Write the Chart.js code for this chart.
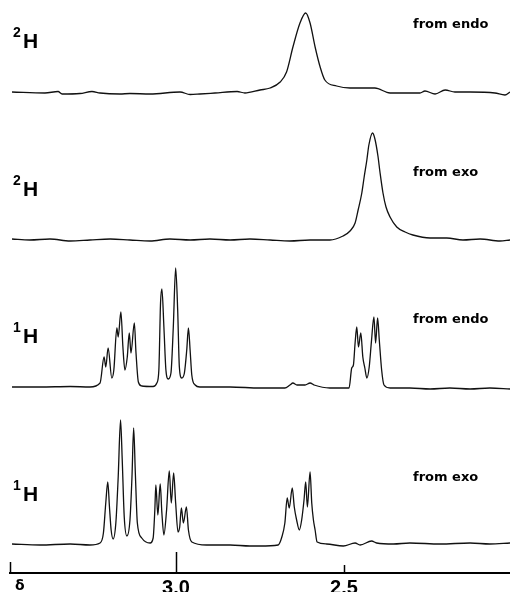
<!DOCTYPE html>
<html>
<head>
<meta charset="utf-8">
<script src="https://cdn.jsdelivr.net/npm/chart.js@4.4.0/dist/chart.umd.min.js"></script>
<style>
  html, body { margin: 0; padding: 0; background: #fff; }
  #wrap { position: relative; width: 510px; height: 592px; }
</style>
</head>
<body>
<div id="wrap"><canvas id="nmr"></canvas></div>
<script>
// chemical shift (ppm) / signal height, one pair of arrays per trace (top to bottom)
const endoDeutPpm = [3.488, 3.390, 3.351, 3.339, 3.286, 3.250, 3.226, 3.167, 3.137, 3.077, 2.988, 2.958, 2.929, 2.884, 2.818, 2.795, 2.750, 2.720, 2.690, 2.671, 2.652, 2.631, 2.614, 2.601, 2.586, 2.571, 2.557, 2.522, 2.482, 2.452, 2.408, 2.363, 2.333, 2.274, 2.259, 2.229, 2.199, 2.170, 2.125, 2.051, 2.021, 2.006];
const endoDeutInt = [0, -1, 0.5, -2, -1.5, 0.5, -1, -2, -1.5, -2, 0, -2.5, -2, -1, 0.5, -1, 2, 4, 10, 20, 45, 69, 79, 69, 45, 25, 12, 6, 4, 4, 4, -1, -1, -1, 1, -2, 2, 0, 0, -1, -3, 0];

const exoDeutPpm = [3.488, 3.435, 3.375, 3.315, 3.256, 3.196, 3.137, 3.077, 3.018, 2.958, 2.899, 2.839, 2.780, 2.720, 2.661, 2.601, 2.542, 2.503, 2.482, 2.467, 2.458, 2.447, 2.440, 2.432, 2.426, 2.415, 2.408, 2.399, 2.393, 2.384, 2.375, 2.363, 2.343, 2.318, 2.295, 2.244, 2.194, 2.146, 2.095, 2.036, 2.006];
const exoDeutInt = [1, 0, 1, -1, 0, 1, 0, -1, 1, 0, 1, 0, 1, 0, -1, 0, 0, 4, 9, 17, 30, 47, 63, 80, 95, 107, 101, 84, 68, 47, 33, 23, 13, 8, 5, 2, 2, 0, 1, -1, 0];

const endoProtPpm = [3.488, 3.405, 3.315, 3.256, 3.226, 3.214, 3.209, 3.202, 3.191, 3.185, 3.176, 3.172, 3.164, 3.158, 3.152, 3.145, 3.139, 3.134, 3.124, 3.119, 3.112, 3.102, 3.068, 3.057, 3.051, 3.046, 3.042, 3.036, 3.030, 3.023, 3.015, 3.008, 3.001, 2.995, 2.990, 2.983, 2.975, 2.968, 2.963, 2.958, 2.953, 2.943, 2.929, 2.839, 2.750, 2.676, 2.661, 2.652, 2.640, 2.616, 2.601, 2.589, 2.542, 2.497, 2.485, 2.477, 2.472, 2.467, 2.462, 2.457, 2.450, 2.444, 2.438, 2.432, 2.425, 2.418, 2.411, 2.406, 2.400, 2.395, 2.388, 2.381, 2.363, 2.304, 2.244, 2.185, 2.125, 2.066, 2.006];
const endoProtInt = [0, 0, 0.5, 0, 4, 30, 20, 39, 9, 17, 59, 50, 75, 40, 17, 30, 54, 34, 64, 34, 5, 1, 0.5, 4, 17, 84, 98, 60, 17, 8, 14, 60, 119, 77, 20, 9, 14, 37, 59, 37, 12, 2, 0, 0, -1, -1, 2, 4, 2, 2, 4, 2, -1, -1, -1, 19, 22, 44, 60, 40, 54, 30, 19, 9, 20, 47, 70, 44, 69, 47, 17, 2, -1, -1, -2, -1, -2, -1, -2];

const exoProtPpm = [3.488, 3.405, 3.315, 3.256, 3.226, 3.216, 3.209, 3.203, 3.198, 3.193, 3.187, 3.179, 3.172, 3.165, 3.160, 3.154, 3.146, 3.137, 3.131, 3.126, 3.121, 3.115, 3.102, 3.077, 3.068, 3.063, 3.060, 3.054, 3.047, 3.042, 3.036, 3.028, 3.020, 3.014, 3.007, 3.001, 2.994, 2.989, 2.984, 2.978, 2.969, 2.963, 2.953, 2.909, 2.839, 2.780, 2.750, 2.696, 2.685, 2.676, 2.669, 2.663, 2.654, 2.648, 2.641, 2.633, 2.626, 2.619, 2.614, 2.609, 2.601, 2.596, 2.591, 2.586, 2.580, 2.552, 2.502, 2.467, 2.452, 2.418, 2.403, 2.353, 2.304, 2.214, 2.125, 2.066, 2.006];
const exoProtInt = [1, 0, 1, 0, 2, 12, 42, 63, 38, 15, 6, 22, 68, 125, 85, 28, 9, 25, 68, 117, 72, 22, 7, 2, 7, 35, 60, 30, 61, 32, 10, 35, 74, 42, 72, 42, 13, 18, 37, 22, 38, 15, 3, 0, 0, -1, -1, 0, 8, 22, 47, 37, 57, 38, 25, 15, 25, 45, 63, 38, 73, 42, 25, 15, 3, 1, -1, 2, 0, 4, 2, 1, 2, 1, 2, 1, 2];

const nucleusMass = ['2', '2', '1', '1'];
const sourceLabels = ['from endo', 'from exo', 'from endo', 'from exo'];
const tickValues = [3.0, 2.5];
const tickLabels = ['3.0', '2.5'];

// layout: pixel row of each trace's baseline, and axis range
const baselineRow = [92, 240, 387, 545];
const plotBottom = 573;
const ppmMin = 2.006, ppmMax = 3.494;

function toPoints(ppm, ints) {
  return ppm.map((p, i) => ({ x: p, y: ints[i] }));
}

const traces = [
  toPoints(endoDeutPpm, endoDeutInt),
  toPoints(exoDeutPpm, exoDeutInt),
  toPoints(endoProtPpm, endoProtInt),
  toPoints(exoProtPpm, exoProtInt)
];

const scales = {
  x: {
    type: 'linear', reverse: true, min: ppmMin, max: ppmMax,
    afterBuildTicks: (s) => { s.ticks = tickValues.map(v => ({ value: v })); },
    afterFit: (s) => { s.height = 592 - plotBottom; },
    ticks: {
      autoSkip: false, maxRotation: 0, padding: -5, color: '#000',
      font: { family: "'Liberation Sans', Arial, sans-serif", size: 20, weight: 'bold' },
      callback: (v, i) => tickLabels[i]
    },
    grid: { display: false },
    border: { display: true, color: '#000', width: 2 }
  }
};
baselineRow.forEach((b, i) => {
  scales['y' + i] = { display: false, min: b - plotBottom, max: b };
});

// tick marks point up into the plot, δ at the left end, trace captions
const overlay = {
  id: 'overlay',
  afterDraw(chart) {
    const ctx = chart.ctx;
    const xs = chart.scales.x;
    const axisY = chart.chartArea.bottom;
    ctx.save();
    ctx.strokeStyle = '#000';
    ctx.lineWidth = 1.5;
    [[ppmMax, 11], [3.0, 21], [2.5, 8]].forEach(([p, len]) => {
      const px = Math.round(xs.getPixelForValue(p)) + 0.5;
      ctx.beginPath();
      ctx.moveTo(px, axisY);
      ctx.lineTo(px, axisY - len);
      ctx.stroke();
    });
    ctx.fillStyle = '#000';
    ctx.textBaseline = 'alphabetic';
    ctx.font = "bold 14px 'DejaVu Sans', sans-serif";
    ctx.fillText('δ', 15, 590);

    nucleusMass.forEach((m, i) => {
      const ys = chart.scales['y' + i];
      const yH = ys.getPixelForValue(44);
      ctx.textAlign = 'left';
      ctx.font = "bold 14px 'Liberation Sans', Arial, sans-serif";
      ctx.fillText(m, 13, yH - 11);
      ctx.font = "bold 21px 'Liberation Sans', Arial, sans-serif";
      ctx.fillText('H', 23, yH);
      ctx.font = "bold 13px 'DejaVu Sans', sans-serif";
      ctx.textBaseline = 'middle';
      ctx.fillText(sourceLabels[i], 413, ys.getPixelForValue(67));
      ctx.textBaseline = 'alphabetic';
    });
    ctx.restore();
  }
};

new Chart(document.getElementById('nmr'), {
  type: 'line',
  data: {
    datasets: traces.map((pts, i) => ({
      data: pts,
      yAxisID: 'y' + i,
      borderColor: '#111',
      borderWidth: 1.3,
      pointRadius: 0,
      cubicInterpolationMode: 'monotone',
      clip: false
    }))
  },
  options: {
    responsive: true,
    maintainAspectRatio: false,
    animation: false,
    layout: { padding: { left: 10, right: 0, top: 0, bottom: 0 } },
    plugins: { legend: { display: false }, tooltip: { enabled: false } },
    scales: scales
  },
  plugins: [overlay]
});
</script>
</body>
</html>
